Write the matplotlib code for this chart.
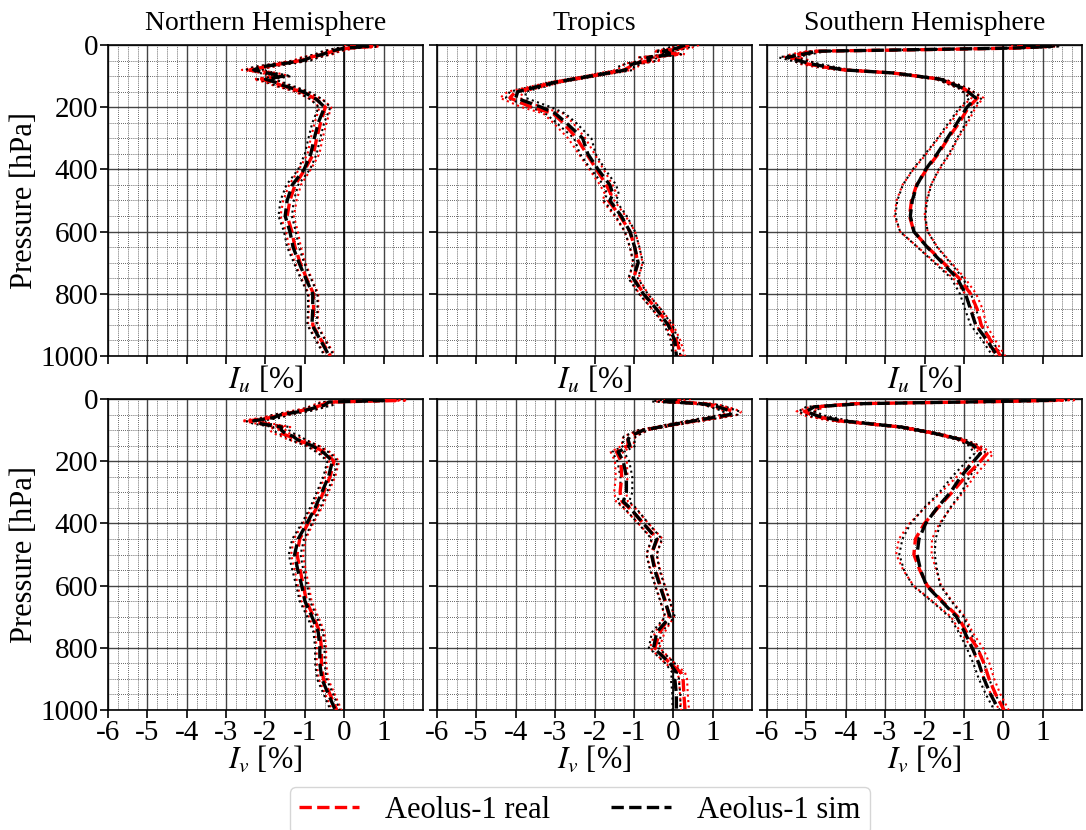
import numpy as np
import matplotlib
matplotlib.use("Agg")
import matplotlib.pyplot as plt
from matplotlib.ticker import MultipleLocator

plt.rcParams['font.family'] = ['Liberation Serif', 'DejaVu Serif']
plt.rcParams['mathtext.fontset'] = 'stix'

titles = ["Northern Hemisphere", "Tropics", "Southern Hemisphere"]
xlabels = ["$I_u$ [%]", "$I_v$ [%]"]
xticks = [-6, -5, -4, -3, -2, -1, 0, 1]
yticks = [0, 200, 400, 600, 800, 1000]

# ---------------- NH, I_u ----------------
p_nh_u = [0, 5, 10, 20, 30, 40, 50, 60, 70, 80, 90, 100, 110, 120, 130, 150, 175, 200,
          250, 300, 350, 400, 450, 500, 550, 600, 650, 700, 750, 800, 850, 900, 950, 1000]
nh_u_real = [0.2, 0.7, 0.1, -0.3, -0.5, -0.9, -1.1, -1.6, -2.0, -2.4, -1.9, -1.6, -2.1, -1.8, -1.6,
             -1.1, -0.7, -0.48, -0.6, -0.7, -0.78, -1.0, -1.25, -1.38, -1.45, -1.33, -1.25, -1.12,
             -0.96, -0.78, -0.78, -0.8, -0.58, -0.35]
nh_u_sim = [0.3, 0.6, 0.0, -0.35, -0.55, -0.85, -1.05, -1.55, -2.1, -2.3, -1.95, -1.55, -2.0, -1.75,
            -1.55, -1.05, -0.7, -0.5, -0.66, -0.76, -0.85, -1.02, -1.32, -1.45, -1.5, -1.38, -1.3,
            -1.15, -0.98, -0.8, -0.8, -0.82, -0.6, -0.38]
nh_u_err = [0.2, 0.2, 0.2, 0.2, 0.2, 0.2, 0.2, 0.2, 0.2, 0.2, 0.2, 0.2, 0.2, 0.2, 0.2,
            0.15, 0.15, 0.15, 0.15, 0.15, 0.15, 0.15, 0.15, 0.17, 0.17, 0.15, 0.15, 0.13,
            0.13, 0.12, 0.12, 0.12, 0.12, 0.12]

# ---------------- Tropics, I_u ----------------
p_tr_u = [0, 10, 20, 30, 40, 50, 60, 70, 80, 100, 120, 150, 170, 200, 220, 250, 300, 350,
          400, 450, 480, 500, 550, 600, 650, 700, 750, 800, 850, 900, 950, 1000]
tr_u_real = [0.4, 0.2, -0.3, 0.1, -0.7, -0.5, -1.05, -1.1, -1.25, -2.1, -3.0, -4.0, -4.15,
             -3.6, -3.05, -2.8, -2.45, -2.2, -1.95, -1.7, -1.58, -1.65, -1.35, -1.1, -0.98,
             -0.9, -1.0, -0.75, -0.42, -0.1, 0.08, 0.2]
tr_u_sim = [0.3, 0.1, -0.25, 0.0, -0.65, -0.6, -1.0, -1.2, -1.2, -2.1, -3.0, -3.95, -4.0,
            -3.35, -3.0, -2.72, -2.3, -2.17, -1.91, -1.61, -1.53, -1.61, -1.32, -1.1, -0.98,
            -0.89, -1.02, -0.76, -0.42, -0.13, 0.04, 0.08]
tr_u_err = [0.25, 0.25, 0.2, 0.2, 0.2, 0.2, 0.2, 0.2, 0.2, 0.15, 0.15, 0.2, 0.25,
            0.25, 0.25, 0.25, 0.22, 0.2, 0.18, 0.16, 0.15, 0.15, 0.14, 0.13, 0.12,
            0.12, 0.12, 0.11, 0.11, 0.1, 0.1, 0.1]

# ---------------- SH, I_u ----------------
p_sh_u = [0, 5, 10, 15, 20, 30, 40, 50, 60, 70, 80, 90, 110, 140, 170, 200, 250, 300, 350,
          400, 450, 500, 550, 600, 650, 700, 750, 800, 850, 900, 950, 1000]
sh_u_real = [0.4, 1.1, 0.3, -2.0, -4.8, -5.2, -5.4, -5.1, -5.0, -4.6, -4.05, -2.8, -1.6,
             -1.0, -0.65, -0.88, -1.12, -1.4, -1.65, -1.95, -2.2, -2.33, -2.38, -2.27,
             -1.92, -1.52, -1.12, -0.83, -0.66, -0.56, -0.32, -0.07]
sh_u_sim = [0.5, 1.2, 0.2, -2.2, -4.7, -5.1, -5.5, -5.2, -4.9, -4.5, -4.05, -2.78, -1.6,
            -1.0, -0.7, -0.92, -1.17, -1.42, -1.68, -1.97, -2.19, -2.31, -2.36, -2.27,
            -1.93, -1.55, -1.17, -0.96, -0.83, -0.7, -0.41, -0.15]
sh_u_err = [0.2, 0.2, 0.2, 0.2, 0.2, 0.2, 0.2, 0.2, 0.2, 0.2, 0.15, 0.12, 0.1,
            0.12, 0.15, 0.18, 0.22, 0.25, 0.3, 0.33, 0.36, 0.38, 0.38, 0.35,
            0.25, 0.2, 0.15, 0.14, 0.14, 0.13, 0.12, 0.12]

# ---------------- NH, I_v ----------------
p_nh_v = [0, 5, 10, 20, 30, 40, 50, 60, 70, 80, 90, 100, 110, 120, 130, 150, 175, 200,
          250, 300, 350, 400, 450, 500, 550, 600, 650, 700, 750, 800, 850, 900, 950, 1000]
nh_v_real = [0.8, 1.3, -0.4, -0.6, -0.8, -1.2, -1.57, -1.9, -2.4, -2.0, -1.57, -1.7, -1.6,
             -1.4, -1.23, -0.8, -0.45, -0.26, -0.36, -0.53, -0.7, -0.92, -1.13, -1.2,
             -1.12, -1.04, -0.96, -0.78, -0.62, -0.58, -0.58, -0.53, -0.36, -0.19]
nh_v_sim = [0.5, 1.0, -0.4, -0.5, -0.8, -1.1, -1.6, -1.8, -2.3, -2.1, -1.6, -1.6, -1.5,
            -1.3, -1.2, -0.82, -0.5, -0.3, -0.4, -0.57, -0.74, -0.95, -1.17, -1.26,
            -1.18, -1.08, -1.0, -0.82, -0.66, -0.62, -0.62, -0.57, -0.4, -0.23]
nh_v_err = [0.3, 0.3, 0.2, 0.2, 0.2, 0.2, 0.2, 0.2, 0.2, 0.2, 0.2, 0.2, 0.2,
            0.2, 0.2, 0.15, 0.15, 0.13, 0.13, 0.13, 0.13, 0.13, 0.15, 0.15,
            0.14, 0.14, 0.13, 0.12, 0.12, 0.12, 0.12, 0.12, 0.12, 0.12]

# ---------------- Tropics, I_v ----------------
p_tr_v = [0, 8, 15, 20, 30, 40, 50, 60, 80, 100, 120, 130, 150, 170, 200, 250, 300, 330, 350,
          400, 450, 480, 500, 550, 600, 650, 700, 750, 800, 850, 880, 900, 950, 1000]
tr_v_real = [0.2, -0.2, 0.8, 1.0, 1.3, 1.52, 1.48, 1.05, 0.1, -0.76, -1.1, -1.15, -1.15,
             -1.44, -1.33, -1.31, -1.35, -1.3, -1.12, -0.76, -0.4, -0.5, -0.55, -0.45,
             -0.33, -0.2, -0.1, -0.34, -0.47, -0.08, 0.2, 0.25, 0.27, 0.3]
tr_v_sim = [0.1, -0.3, 0.7, 1.0, 1.25, 1.48, 1.44, 1.0, 0.08, -0.76, -1.1, -1.15, -1.1,
            -1.4, -1.27, -1.19, -1.19, -1.27, -1.1, -0.76, -0.42, -0.5, -0.55, -0.47,
            -0.34, -0.21, -0.08, -0.42, -0.5, -0.08, 0.08, 0.04, 0.08, 0.08]
tr_v_err = [0.25, 0.25, 0.2, 0.2, 0.2, 0.2, 0.2, 0.2, 0.15, 0.12, 0.15, 0.15, 0.15,
            0.15, 0.15, 0.15, 0.15, 0.15, 0.15, 0.13, 0.13, 0.13, 0.13, 0.12,
            0.12, 0.12, 0.12, 0.12, 0.12, 0.12, 0.1, 0.1, 0.1, 0.1]

# ---------------- SH, I_v ----------------
p_sh_v = [0, 4, 8, 15, 25, 40, 55, 70, 90, 110, 130, 150, 175, 200, 250, 300, 350,
          400, 450, 500, 550, 600, 650, 700, 750, 800, 850, 900, 950, 1000]
sh_v_real = [1.2, 1.5, 0.0, -3.8, -4.7, -5.05, -4.8, -4.2, -2.6, -1.76, -1.08, -0.72,
             -0.41, -0.58, -0.96, -1.3, -1.66, -2.0, -2.23, -2.27, -2.12, -1.93, -1.55,
             -1.15, -0.93, -0.66, -0.49, -0.36, -0.19, 0.02]
sh_v_sim = [1.0, 1.3, -0.2, -3.6, -4.8, -5.0, -4.7, -4.1, -2.6, -1.76, -1.08, -0.75,
            -0.58, -0.75, -1.08, -1.34, -1.68, -1.97, -2.14, -2.19, -2.1, -1.95, -1.57,
            -1.19, -0.98, -0.79, -0.62, -0.49, -0.32, -0.11]
sh_v_err = [0.3, 0.3, 0.2, 0.2, 0.2, 0.2, 0.2, 0.2, 0.12, 0.1, 0.1, 0.12,
            0.15, 0.18, 0.22, 0.28, 0.33, 0.38, 0.42, 0.45, 0.42, 0.35, 0.25,
            0.18, 0.15, 0.14, 0.14, 0.13, 0.12, 0.12]

panels = [
    [(p_nh_u, nh_u_real, nh_u_sim, nh_u_err),
     (p_tr_u, tr_u_real, tr_u_sim, tr_u_err),
     (p_sh_u, sh_u_real, sh_u_sim, sh_u_err)],
    [(p_nh_v, nh_v_real, nh_v_sim, nh_v_err),
     (p_tr_v, tr_v_real, tr_v_sim, tr_v_err),
     (p_sh_v, sh_v_real, sh_v_sim, sh_v_err)],
]

W, H = 1086, 830
fig = plt.figure(figsize=(W / 100, H / 100), dpi=100)

col_left = [108, 437, 767]
col_w = 315
row_top = [45, 399]
row_h = 311

TICK_FS = 21
LAB_FS = 22
handles = labels = None
for r in range(2):
    for c in range(3):
        ax = fig.add_axes([col_left[c] / W, 1 - (row_top[r] + row_h) / H, col_w / W, row_h / H])
        p, real, sim, err = panels[r][c]
        p = np.array(p, dtype=float)
        real = np.array(real)
        sim = np.array(sim)
        err = np.array(err)
        ax.plot(real - err, p, ':', color='red', lw=1.5, zorder=3)
        ax.plot(real + err, p, ':', color='red', lw=1.5, zorder=3)
        ax.plot(sim - err, p, ':', color='black', lw=1.5, zorder=3)
        ax.plot(sim + err, p, ':', color='black', lw=1.5, zorder=3)
        ax.plot(real, p, '--', color='red', lw=2.4, zorder=4, label='Aeolus-1 real')
        ax.plot(sim, p, '--', color='black', lw=2.4, zorder=5, label='Aeolus-1 sim')
        ax.axvline(0, color='black', lw=1.2, zorder=2)

        ax.set_xlim(-6, 2)
        ax.set_ylim(1000, 0)
        ax.set_xticks(xticks)
        ax.set_yticks(yticks)
        ax.xaxis.set_minor_locator(MultipleLocator(0.25))
        ax.yaxis.set_minor_locator(MultipleLocator(50))
        ax.grid(which='major', color='#444444', lw=1.0, ls='-', zorder=1)
        ax.grid(which='minor', color='#333333', lw=0.6, ls=(0, (1, 1.5)), zorder=1)
        ax.set_axisbelow(True)
        ax.tick_params(which='major', direction='out', length=6, width=1.2,
                       labelsize=TICK_FS, pad=1)
        ax.tick_params(which='minor', length=0)
        for s in ax.spines.values():
            s.set_linewidth(1.2)
        if r == 0:
            ax.tick_params(labelbottom=False)
            ax.set_title(titles[c], fontsize=20, pad=11)
            ax.set_xlabel(xlabels[0], fontsize=LAB_FS, labelpad=0)
        else:
            ax.set_xticklabels([str(t) for t in xticks])
            ax.set_xlabel(xlabels[1], fontsize=LAB_FS, labelpad=-1)
        if c == 0:
            ax.set_ylabel("Pressure [hPa]", fontsize=LAB_FS, labelpad=1)
        else:
            ax.tick_params(labelleft=False)
        if r == 1 and c == 1:
            handles, labels = ax.get_legend_handles_labels()

fig.legend(handles, labels, loc='lower center', bbox_to_anchor=(580 / W, -4 / H),
           borderaxespad=0, ncol=2, fontsize=22, frameon=True, fancybox=True,
           columnspacing=2.0, handlelength=1.96, handletextpad=0.85, borderpad=0.3,
           edgecolor='#cccccc')

fig.savefig("out.png", dpi=100)
